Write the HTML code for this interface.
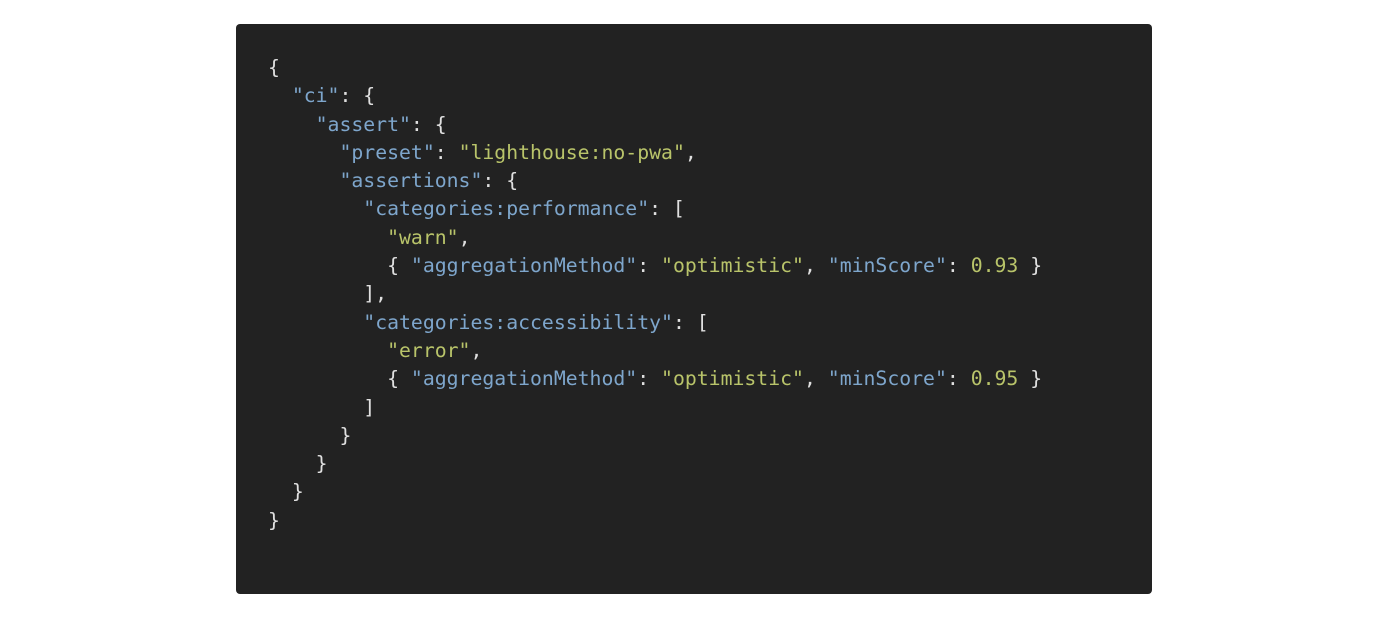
<!DOCTYPE html>
<html><head><style>
body{margin:0;width:1400px;height:625px;background:#fff;position:relative;overflow:hidden}
.box{position:absolute;left:236px;top:24px;width:916px;height:570px;background:#222;border-radius:4px}
pre{position:absolute;left:268px;top:54px;margin:0;font-family:"DejaVu Sans Mono","Liberation Mono",monospace;font-size:19.8px;line-height:28.3px;color:#e0e0e0}
.k{color:#7ea6cc}.s{color:#b9c46a}.n{color:#b9c46a}
</style></head><body>
<div class="box"></div>
<pre>{
  <span class="k">"ci"</span>: {
    <span class="k">"assert"</span>: {
      <span class="k">"preset"</span>: <span class="s">"lighthouse:no-pwa"</span>,
      <span class="k">"assertions"</span>: {
        <span class="k">"categories:performance"</span>: [
          <span class="s">"warn"</span>,
          { <span class="k">"aggregationMethod"</span>: <span class="s">"optimistic"</span>, <span class="k">"minScore"</span>: <span class="n">0.93</span> }
        ],
        <span class="k">"categories:accessibility"</span>: [
          <span class="s">"error"</span>,
          { <span class="k">"aggregationMethod"</span>: <span class="s">"optimistic"</span>, <span class="k">"minScore"</span>: <span class="n">0.95</span> }
        ]
      }
    }
  }
}</pre>
</body></html>
